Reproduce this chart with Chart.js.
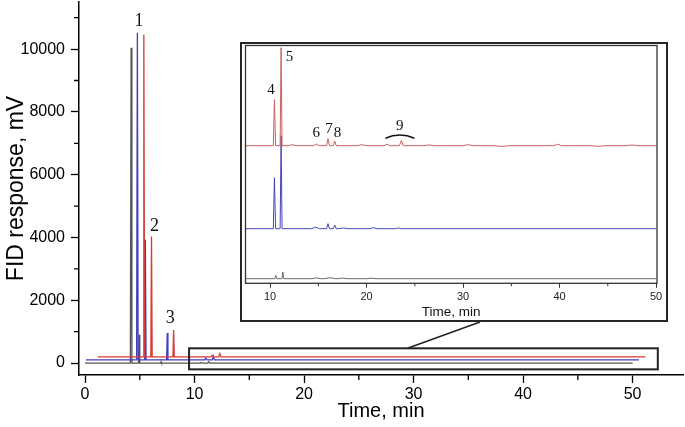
<!DOCTYPE html>
<html lang="en">
<head>
<meta charset="UTF-8">
<title>FID chromatograms</title>
<script src="https://cdn.jsdelivr.net/npm/chart.js@4"></script>
<style>
  html, body { margin: 0; padding: 0; background: #fff; }
  #wrap { position: relative; width: 685px; height: 427px; }
  #main { position: absolute; left: 0; top: 0; }
  #insetBox { position: absolute; left: 240px; top: 42px; width: 424px; height: 276px;
              border: 2px solid #262626; background: #fff; }
</style>
</head>
<body>
<div id="wrap">
  <canvas id="main" width="685" height="427"></canvas>
  <div id="insetBox"><canvas id="inset" width="424" height="276"></canvas></div>
</div>
<script>
// ---- main chromatograms: peaks as [retention time (min), height above baseline (mV), half width (min)]
const blackPeaks = [[4.21, 10040, 0.07], [4.94, 900, 0.06], [6.94, 40, 0.05], [10.6, 20, 0.1], [11.3, 40, 0.1]];
const bluePeaks  = [[4.20, 10420, 0.07], [4.93, 3830, 0.06], [6.93, 860, 0.06], [10.45, 60, 0.1], [11.14, 110, 0.1]];
const redPeaks   = [[4.20, 10260, 0.07], [4.90, 3830, 0.06], [6.92, 850, 0.06], [10.45, 50, 0.1], [11.14, 100, 0.1]];
const runStart = [0, -0.5, 0];        // min
const runEnd = [50, 50, 50];          // min
const timeShift = [0, 0.58, 1.17];    // min, horizontal offset of each run
const baseLift = [0, 100, 200];       // mV, vertical offset of each run

const xTicks = [0, 10, 20, 30, 40, 50];
const xMinor = [5, 15, 25, 35, 45];
const yTicks = [0, 2000, 4000, 6000, 8000, 10000];
const yMinor = [1000, 3000, 5000, 7000, 9000, 11000];

const peakNames = ['1', '2', '3'];
const peakNameTime = [4.92, 6.35, 7.79];
const peakNameResp = [10890, 4350, 1435];

const zoomTime = [9.5, 52.3];
const zoomResp = [-200, 470];

// ---- inset (10-50 min), response in inset units
const insetBlackPeaks = [[10.59, 3.4, 0.1], [11.32, 6.7, 0.1], [14.8, 0.8, 0.5], [16.2, 1, 0.6], [17.5, 0.6, 0.5], [20.5, 0.5, 0.5]];
const insetBluePeaks  = [[10.45, 51, 0.12], [11.14, 93, 0.1], [14.7, 1.6, 0.4], [16.0, 5, 0.15], [16.7, 3.6, 0.15],
                         [17.6, 0.8, 0.4], [20.7, 1, 0.4], [23.3, 0.8, 0.3]];
const insetRedPeaks   = [[10.45, 46, 0.12], [11.14, 98, 0.1], [12.3, 1, 0.4], [14.8, 1.5, 0.3], [16.0, 7, 0.15],
                         [16.7, 4.5, 0.15], [19.5, 1, 0.5], [22.1, 1.5, 0.3], [23.6, 5, 0.2], [26.5, 0.8, 0.6],
                         [30.5, 1, 0.6], [34, -0.8, 0.8], [39.8, 1.5, 0.4], [44, -0.6, 0.8], [47.5, 0.8, 0.6]];
const insetLift = [0, 50, 133];
const insetEnd = [50, 50, 50.05];

const insetXTicks = [10, 20, 30, 40, 50];
const insetXMinor = [15, 25, 35, 45];

const insetNames = ['4', '5', '6', '7', '8', '9'];
const insetNameTime = [10.08, 12.01, 14.78, 16.10, 16.99, 23.43];
const insetNameResp = [188.7, 222, 145.7, 149.4, 145.7, 152.7];
const braceTime = [21.95, 24.96];
const braceResp = [140.4, 143.7];   // ends, apex

const colors = ['#555555', '#3f3fbf', '#d63a3a'];
const insetColors = ['#6a6a6a', '#4545bd', '#cc5f5f'];

Chart.defaults.font.family = "'Liberation Sans', Arial, sans-serif";
Chart.defaults.color = '#000';

function trace(peaks, start, end, shift, lift) {
  const pts = [{ x: start + shift, y: lift }];
  peaks.forEach(([t, h, w]) => {
    pts.push({ x: t - w + shift, y: lift }, { x: t + shift, y: h + lift }, { x: t + w + shift, y: lift });
  });
  pts.push({ x: end + shift, y: lift });
  return pts;
}

// no extra room for end labels: keep the plot box where the picture has it
function noPad(s) {
  s.paddingTop = 0; s.paddingBottom = 0; s.paddingLeft = 0; s.paddingRight = 0;
}

const minorTicks = {
  id: 'minorTicks',
  afterDraw(chart, args, o) {
    const { ctx, chartArea: a, scales: { x, y } } = chart;
    ctx.save();
    ctx.strokeStyle = o.color;
    ctx.lineWidth = o.width;
    ctx.beginPath();
    (o.xs || []).forEach(v => {
      const px = x.getPixelForValue(v);
      ctx.moveTo(px, a.bottom); ctx.lineTo(px, a.bottom + o.len);
    });
    (o.ys || []).forEach(v => {
      const py = y.getPixelForValue(v);
      ctx.moveTo(a.left, py); ctx.lineTo(a.left - o.len, py);
    });
    ctx.stroke();
    ctx.restore();
  }
};

const textMarks = {
  id: 'textMarks',
  afterDatasetsDraw(chart, args, o) {
    const { ctx, scales: { x, y } } = chart;
    ctx.save();
    ctx.fillStyle = '#111';
    ctx.font = o.font;
    ctx.textAlign = 'center';
    ctx.textBaseline = 'middle';
    o.names.forEach((n, i) => ctx.fillText(n, x.getPixelForValue(o.times[i]), y.getPixelForValue(o.resps[i])));
    if (o.brace) {
      const x0 = x.getPixelForValue(o.brace.t[0]), x1 = x.getPixelForValue(o.brace.t[1]);
      const ye = y.getPixelForValue(o.brace.r[0]), ya = y.getPixelForValue(o.brace.r[1]);
      ctx.strokeStyle = '#111';
      ctx.lineWidth = 1.5;
      ctx.beginPath();
      ctx.moveTo(x0, ye);
      ctx.quadraticCurveTo((x0 + x1) / 2, 2 * ya - ye, x1, ye);
      ctx.stroke();
    }
    ctx.restore();
  }
};

const zoomBox = {
  id: 'zoomBox',
  afterDatasetsDraw(chart) {
    const { ctx, scales: { x, y } } = chart;
    const l = x.getPixelForValue(zoomTime[0]), r = x.getPixelForValue(zoomTime[1]);
    const t = y.getPixelForValue(zoomResp[1]), b = y.getPixelForValue(zoomResp[0]);
    const box = document.getElementById('insetBox');
    ctx.save();
    ctx.strokeStyle = '#222';
    ctx.lineWidth = 2;
    ctx.strokeRect(l, t, r - l, b - t);
    ctx.lineWidth = 1.6;
    ctx.beginPath();
    ctx.moveTo(x.getPixelForValue(29.45), t);
    ctx.lineTo(box.offsetLeft + 240, box.offsetTop + box.offsetHeight);
    ctx.stroke();
    ctx.restore();
  }
};

const frame = {
  id: 'frame',
  afterDraw(chart) {
    const { ctx, chartArea: a } = chart;
    ctx.save();
    ctx.strokeStyle = '#333';
    ctx.lineWidth = 1.3;
    ctx.strokeRect(a.left, a.top, a.right - a.left, a.bottom - a.top);
    ctx.restore();
  }
};

const mainSets = [
  { peaks: blackPeaks, c: colors[0], i: 0 },
  { peaks: bluePeaks, c: colors[1], i: 1 },
  { peaks: redPeaks, c: colors[2], i: 2 }
].reverse().map(s => ({
  data: trace(s.peaks, runStart[s.i], runEnd[s.i], timeShift[s.i], baseLift[s.i]),
  borderColor: s.c, borderWidth: 1.3, showLine: true, pointRadius: 0, tension: 0
}));

new Chart(document.getElementById('main'), {
  type: 'scatter',
  data: { datasets: mainSets },
  options: {
    responsive: false,
    animation: false,
    layout: { padding: { top: 2, right: 2, left: 0, bottom: 0 } },
    plugins: {
      legend: { display: false },
      tooltip: { enabled: false },
      minorTicks: { xs: xMinor, ys: yMinor, len: 5, color: '#000', width: 1.3 },
      textMarks: { names: peakNames, times: peakNameTime, resps: peakNameResp, font: "18px 'Liberation Serif', 'Times New Roman', serif" }
    },
    scales: {
      x: {
        type: 'linear', min: -0.55, max: 54.6,
        afterBuildTicks: s => { s.ticks = xTicks.map(v => ({ value: v })); },
        afterFit: s => { s.height = 52; noPad(s); },
        grid: { drawOnChartArea: false, tickLength: 8, color: '#000', tickWidth: 1.3 },
        border: { color: '#000', width: 1.5 },
        ticks: { padding: 2, maxRotation: 0, font: { size: 16 }, callback: v => String(v) },
        title: { display: true, text: 'Time, min', font: { size: 20 }, padding: { top: 0, bottom: 4 } }
      },
      y: {
        min: -380, max: 11500,
        afterBuildTicks: s => { s.ticks = yTicks.map(v => ({ value: v })); },
        afterFit: s => { s.width = 79; noPad(s); },
        grid: { drawOnChartArea: false, tickLength: 8, color: '#000', tickWidth: 1.3 },
        border: { color: '#000', width: 1.5 },
        ticks: { padding: 6, font: { size: 16 }, callback: v => String(v) },
        title: { display: true, text: 'FID response, mV', font: { size: 23 }, padding: { top: 3, bottom: 0 } }
      }
    }
  },
  plugins: [minorTicks, zoomBox, textMarks]
});

const insetSets = [
  { peaks: insetBlackPeaks, i: 0 },
  { peaks: insetBluePeaks, i: 1 },
  { peaks: insetRedPeaks, i: 2 }
].reverse().map(s => ({
  data: trace(s.peaks, 7.3, insetEnd[s.i], 0, insetLift[s.i]),
  borderColor: insetColors[s.i], borderWidth: 1, showLine: true, pointRadius: 0, tension: 0
}));

new Chart(document.getElementById('inset'), {
  type: 'scatter',
  data: { datasets: insetSets },
  options: {
    responsive: false,
    animation: false,
    layout: { padding: { top: 1.5, right: 9, left: 3.5, bottom: 0 } },
    plugins: {
      legend: { display: false },
      tooltip: { enabled: false },
      minorTicks: { xs: insetXMinor, len: 3, color: '#333', width: 1 },
      textMarks: { names: insetNames, times: insetNameTime, resps: insetNameResp, font: "15px 'Liberation Serif', 'Times New Roman', serif",
                   brace: { t: braceTime, r: braceResp } }
    },
    scales: {
      x: {
        type: 'linear', min: 7.45, max: 50.1,
        afterBuildTicks: s => { s.ticks = insetXTicks.map(v => ({ value: v })); },
        afterFit: s => { s.height = 36.7; noPad(s); },
        grid: { drawOnChartArea: false, tickLength: 4.5, color: '#333', tickWidth: 1 },
        border: { display: false },
        ticks: { padding: 3, maxRotation: 0, color: '#222', font: { size: 11 }, callback: v => String(v) },
        title: { display: true, text: 'Time, min', color: '#111', font: { size: 13.5 }, padding: { top: 0, bottom: 0 } }
      },
      y: { display: false, min: -4.6, max: 233.2 }
    }
  },
  plugins: [minorTicks, frame, textMarks]
});
</script>
</body>
</html>
